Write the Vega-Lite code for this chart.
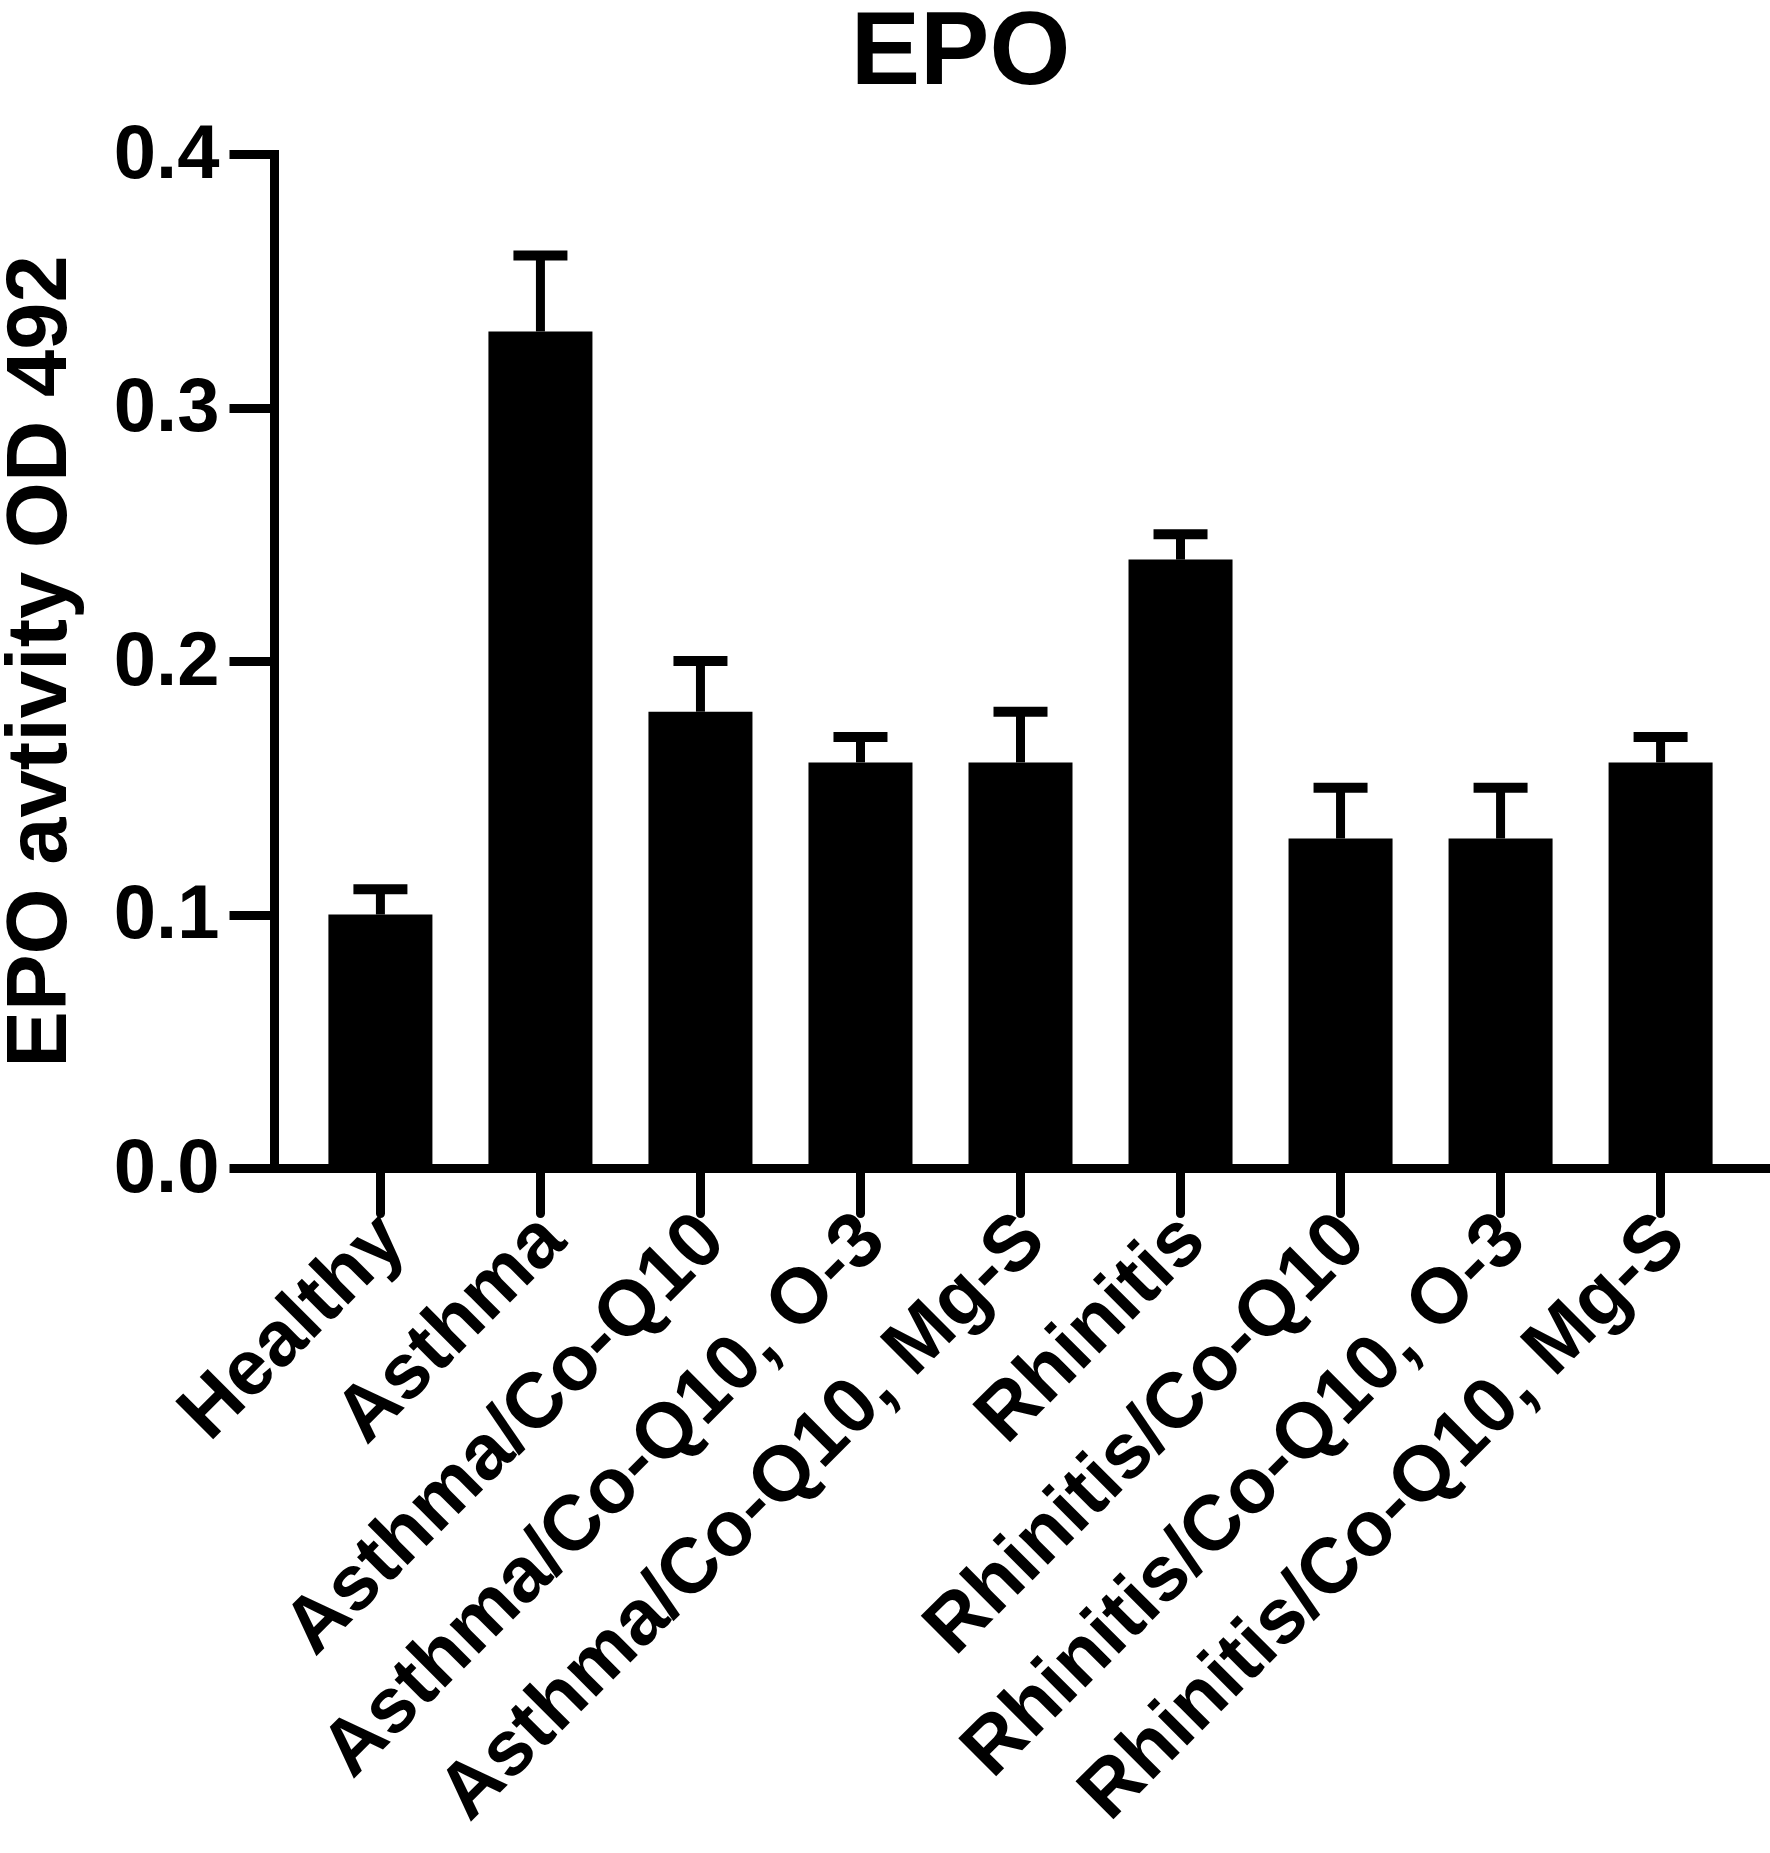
{
  "$schema": "https://vega.github.io/schema/vega-lite/v6.json",
  "autosize": {"type": "none"},
  "padding": {"left": 274, "top": 154, "right": 3, "bottom": 685},
  "width": 1493,
  "height": 1014,
  "background": "white",
  "title": {
    "text": "EPO",
    "font": "Liberation Sans",
    "fontSize": 104,
    "fontWeight": "bold",
    "color": "black",
    "anchor": "middle",
    "frame": "group",
    "baseline": "alphabetic",
    "offset": -72,
    "dx": -60
  },
  "data": {
    "values": [
      {"group": "Healthy", "mean": 0.10, "upper": 0.11},
      {"group": "Asthma", "mean": 0.33, "upper": 0.36},
      {"group": "Asthma/Co-Q10", "mean": 0.18, "upper": 0.20},
      {"group": "Asthma/Co-Q10, O-3", "mean": 0.16, "upper": 0.17},
      {"group": "Asthma/Co-Q10, Mg-S", "mean": 0.16, "upper": 0.18},
      {"group": "Rhinitis", "mean": 0.24, "upper": 0.25},
      {"group": "Rhinitis/Co-Q10", "mean": 0.13, "upper": 0.15},
      {"group": "Rhinitis/Co-Q10, O-3", "mean": 0.13, "upper": 0.15},
      {"group": "Rhinitis/Co-Q10, Mg-S", "mean": 0.16, "upper": 0.17}
    ]
  },
  "encoding": {
    "x": {
      "field": "group",
      "type": "nominal",
      "sort": null,
      "scale": {"paddingInner": 0.35, "paddingOuter": 0.34},
      "axis": {
        "title": null,
        "labelAngle": -45,
        "labelAlign": "right",
        "labelBaseline": "middle",
        "labelFont": "Liberation Sans",
        "labelFontSize": 78,
        "labelFontWeight": "bold",
        "labelColor": "black",
        "labelPadding": 14,
        "labelOffset": 12,
        "labelLimit": 2000,
        "labelOverlap": false,
        "tickSize": 45,
        "tickWidth": 9,
        "tickColor": "black",
        "tickCap": "round",
        "domainColor": "black",
        "domainWidth": 9,
        "domainCap": "square"
      }
    }
  },
  "layer": [
    {
      "mark": {"type": "bar", "color": "black"},
      "encoding": {
        "y": {
          "field": "mean",
          "type": "quantitative",
          "scale": {"domain": [0, 0.4]},
          "axis": {
            "values": [0, 0.1, 0.2, 0.3, 0.4],
            "format": ".1f",
            "grid": false,
            "labelFont": "Liberation Sans",
            "labelFontSize": 76,
            "labelFontWeight": "bold",
            "labelColor": "black",
            "labelPadding": 10,
            "tickSize": 45,
            "tickWidth": 9,
            "tickColor": "black",
            "domainColor": "black",
            "domainWidth": 9,
            "domainCap": "square",
            "title": "EPO avtivity OD 492",
            "titleFont": "Liberation Sans",
            "titleFontSize": 85,
            "titleFontWeight": "bold",
            "titleColor": "black",
            "titlePadding": 30
          }
        }
      }
    },
    {
      "mark": {"type": "rule", "color": "black", "strokeWidth": 9},
      "encoding": {
        "y": {"field": "mean", "type": "quantitative"},
        "y2": {"field": "upper"}
      }
    },
    {
      "mark": {"type": "tick", "color": "black", "opacity": 1, "thickness": 10, "size": 54},
      "encoding": {
        "y": {"field": "upper", "type": "quantitative"}
      }
    }
  ],
  "config": {
    "view": {"stroke": null},
    "axis": {"grid": false}
  }
}
